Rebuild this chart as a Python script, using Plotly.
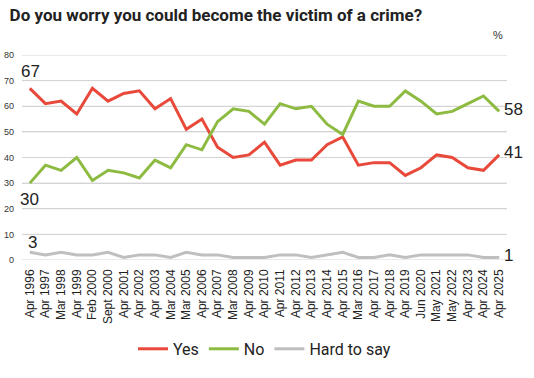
import plotly.graph_objects as go

categories = ["Apr 1996", "Apr 1997", "Mar 1998", "Apr 1999", "Feb 2000", "Sept 2000",
              "Apr 2001", "Apr 2002", "Apr 2003", "Mar 2004", "Mar 2005", "Apr 2006",
              "Apr 2007", "Mar 2008", "Apr 2009", "Apr 2010", "Apr 2011", "Apr 2012",
              "Apr 2013", "Apr 2014", "Apr 2015", "Mar 2016", "Apr 2017", "Apr 2018",
              "Apr 2019", "Jun 2020", "May 2021", "May 2022", "Apr 2023", "Apr 2024",
              "Apr 2025"]

yes = [67, 61, 62, 57, 67, 62, 65, 66, 59, 63, 51, 55, 44, 40, 41, 46,
       37, 39, 39, 45, 48, 37, 38, 38, 33, 36, 41, 40, 36, 35, 41]
no = [30, 37, 35, 40, 31, 35, 34, 32, 39, 36, 45, 43, 54, 59, 58, 53,
      61, 59, 60, 53, 49, 62, 60, 60, 66, 62, 57, 58, 61, 64, 58]
hard = [3, 2, 3, 2, 2, 3, 1, 2, 2, 1, 3, 2, 2, 1, 1, 1,
        2, 2, 1, 2, 3, 1, 1, 2, 1, 2, 2, 2, 2, 1, 1]

series_names = ["Yes", "No", "Hard to say"]
series_values = [yes, no, hard]
colors = ["#E8493A", "#8DBB41", "#BFBFBF"]

y_ticks = [0, 10, 20, 30, 40, 50, 60, 70, 80]

fig = go.Figure()
for name, vals, col in zip(series_names, series_values, colors):
    fig.add_trace(go.Scatter(x=categories, y=vals, name=name, mode="lines",
                             line=dict(color=col, width=3), cliponaxis=False))

# horizontal gridlines at the tick values
for v in y_ticks:
    fig.add_shape(type="line", xref="paper", x0=0, x1=1, yref="y", y0=v, y1=v,
                  line=dict(color="#D4D4D4", width=1), layer="below")

label_font = dict(family="Liberation Sans, Arial", size=17, color="#222222")
# start labels
fig.add_annotation(x=categories[0], y=yes[0], text=str(yes[0]), showarrow=False,
                   xanchor="center", yanchor="bottom", yshift=5, xshift=1, font=label_font)
fig.add_annotation(x=categories[0], y=no[0], text=str(no[0]), showarrow=False,
                   xanchor="center", yanchor="top", yshift=-5, font=label_font)
fig.add_annotation(x=categories[0], y=hard[0], text=str(hard[0]), showarrow=False,
                   xanchor="center", yanchor="bottom", yshift=-2, xshift=3, font=label_font)
# end labels
for vals in series_values:
    fig.add_annotation(x=categories[-1], y=vals[-1], text=str(vals[-1]), showarrow=False,
                       xanchor="left", yanchor="middle", xshift=3, yshift=2, font=label_font)

fig.add_annotation(xref="paper", yref="paper", x=1.0, y=1.0, xanchor="right", xshift=-2,
                   yanchor="bottom", yshift=12, text="%", showarrow=False,
                   font=dict(family="Liberation Sans, Arial", size=11, color="#333333"))

fig.update_layout(
    width=534, height=378,
    margin=dict(l=22, r=27, t=55, b=118),
    paper_bgcolor="white", plot_bgcolor="white",
    title=dict(text="<b>Do you worry you could become the victim of a crime?</b>",
               x=0.018, xanchor="left", y=0.96, yanchor="middle",
               font=dict(family="Roboto", size=17, color="#222222")),
    showlegend=True,
    legend=dict(orientation="h", x=0.5, xanchor="center", yref="container",
                y=0.077, yanchor="middle",
                font=dict(family="Roboto", size=16, color="#222222"),
                itemwidth=30, tracegroupgap=0),
    xaxis=dict(type="category", tickangle=-90, showgrid=False, zeroline=False,
               range=[-0.5, len(categories) - 0.5],
               showline=False, ticks="", ticklabelstandoff=6, automargin=False,
               tickfont=dict(family="Liberation Sans, Arial", size=12, color="#222222")),
    yaxis=dict(range=[0, 80], tickvals=y_ticks, showgrid=True, gridcolor="#D4D4D4",
               gridwidth=1, zeroline=False, showline=False, ticks="",
               ticklabelstandoff=7, automargin=False,
               tickfont=dict(family="Liberation Sans, Arial", size=9, color="#333333")),
)

fig.write_html("out.html", config={"displayModeBar": False},
               post_script="document.body.style.margin='0';document.body.style.overflow='hidden';")
